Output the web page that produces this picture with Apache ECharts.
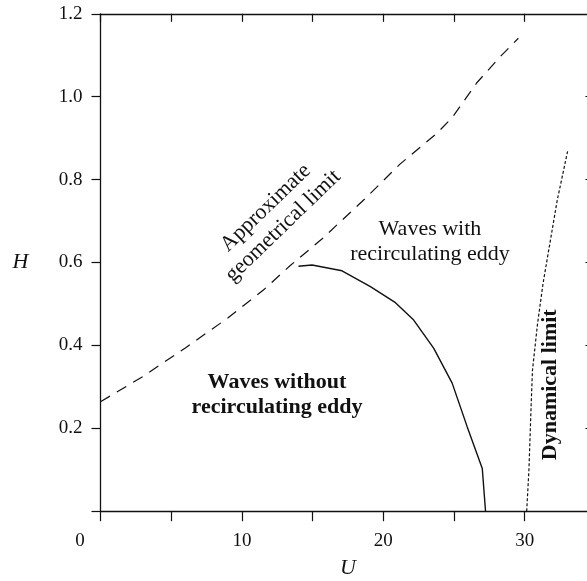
<!DOCTYPE html>
<html>
<head>
<meta charset="utf-8">
<script src="https://cdn.jsdelivr.net/npm/echarts@6/dist/echarts.min.js"></script>
<style>
  html, body { margin: 0; padding: 0; background: #fff; }
  #chart { width: 587px; height: 581px; }
</style>
</head>
<body>
<div id="chart"></div>
<script>
// [U, H] pairs
const geometricalLimit = [
	[0, 0.264], [3, 0.325], [6, 0.394], [9, 0.466], [11.5, 0.533],
	[13.4, 0.592], [15.7, 0.658], [18.8, 0.757], [21.2, 0.838],
	[23.8, 0.912], [24.9, 0.951], [26.6, 1.033], [28.25, 1.096], [29.55, 1.141]
];
const eddyBoundary = [
	[14.0, 0.591], [14.96, 0.594], [17.08, 0.58], [19.09, 0.542],
	[20.86, 0.503], [22.15, 0.461], [23.57, 0.393], [24.87, 0.309],
	[25.93, 0.204], [27.0, 0.103], [27.23, 0]
];
const dynamicalLimit = [
	[30.14, 0], [30.3, 0.1], [30.45, 0.25], [30.55, 0.34], [30.9, 0.45],
	[31.3, 0.55], [32.3, 0.75], [33.05, 0.871]
];
const xTicks = [0, 10, 20, 30];
const yTicks = [0.2, 0.4, 0.6, 0.8, 1.0, 1.2];

const serif = '"Liberation Serif", "Times New Roman", serif';
const ink = '#111';

const chart = echarts.init(document.getElementById('chart'));

const line = (data, type, width) => ({
	type: 'line',
	data: data,
	showSymbol: false,
	smooth: false,
	silent: true,
	lineStyle: { color: ink, width: width, type: type },
	z: 3
});

const frameLine = { onZero: false, lineStyle: { color: ink, width: 1.3 } };

chart.setOption({
	animation: false,
	backgroundColor: '#fff',
	grid: {
		left: 100.5, top: 13.8, width: 494.9, height: 497.4,
		containLabel: false, outerBoundsMode: 'none'
	},
	xAxis: [
		{
			type: 'value', min: 0, max: 35, interval: 5, position: 'bottom',
			name: 'U', nameLocation: 'middle', nameGap: 46,
			nameTextStyle: { fontFamily: serif, fontStyle: 'italic', fontSize: 22, color: ink },
			axisLine: frameLine,
			axisTick: { inside: false, length: 10, lineStyle: { color: ink, width: 1.2 } },
			splitLine: { show: false },
			axisLabel: {
				margin: 20, fontFamily: serif, fontSize: 19, color: ink,
				formatter: v => xTicks.includes(v) ? (v === 0 ? '{z|0}' : String(v)) : '',
				rich: { z: { fontFamily: serif, fontSize: 19, color: ink, padding: [0, 41, 0, 0] } }
			}
		},
		{
			type: 'value', min: 0, max: 35, interval: 5, position: 'top',
			axisLine: frameLine,
			axisTick: { inside: true, length: 8, lineStyle: { color: ink, width: 1.2 } },
			axisLabel: { show: false },
			splitLine: { show: false }
		}
	],
	yAxis: [
		{
			type: 'value', min: 0, max: 1.2, interval: 0.2, position: 'left',
			name: 'H', nameLocation: 'middle', nameGap: 72, nameRotate: 0,
			nameTextStyle: { fontFamily: serif, fontStyle: 'italic', fontSize: 22, color: ink },
			axisLine: frameLine,
			axisTick: { inside: false, length: 9, lineStyle: { color: ink, width: 1.2 } },
			splitLine: { show: false },
			axisLabel: {
				margin: 18, fontFamily: serif, fontSize: 19, color: ink,
				formatter: v => yTicks.some(t => Math.abs(t - v) < 1e-6) ? v.toFixed(1) : ''
			}
		},
		{
			type: 'value', min: 0, max: 1.2, interval: 0.2, position: 'right',
			axisLine: frameLine,
			axisTick: { inside: true, length: 10, lineStyle: { color: ink, width: 1.2 } },
			axisLabel: { show: false },
			splitLine: { show: false }
		}
	],
	series: [
		line(geometricalLimit, [11, 8], 1.2),
		line(eddyBoundary, 'solid', 1.4),
		line(dynamicalLimit, [3, 2], 1.2)
	]
});

// annotations placed in data coordinates
const at = (u, h) => chart.convertToPixel({ gridIndex: 0 }, [u, h]);
const note = (text, u, h, deg, bold) => {
	const p = at(u, h);
	return {
		type: 'text', x: p[0], y: p[1], rotation: deg * Math.PI / 180, z: 10,
		style: {
			text: text, fill: ink, font: (bold ? 'bold ' : '') + '22px ' + serif,
			align: 'center', verticalAlign: 'middle', lineHeight: 25
		}
	};
};

chart.setOption({
	graphic: [
		note('Approximate\ngeometrical limit', 12.3, 0.71, 44, false),
		note('Waves with\nrecirculating eddy', 23.3, 0.649, 0, false),
		note('Waves without\nrecirculating eddy', 12.48, 0.28, 0, true),
		note('Dynamical limit', 31.8, 0.305, 90, true)
	]
});
</script>
</body>
</html>
